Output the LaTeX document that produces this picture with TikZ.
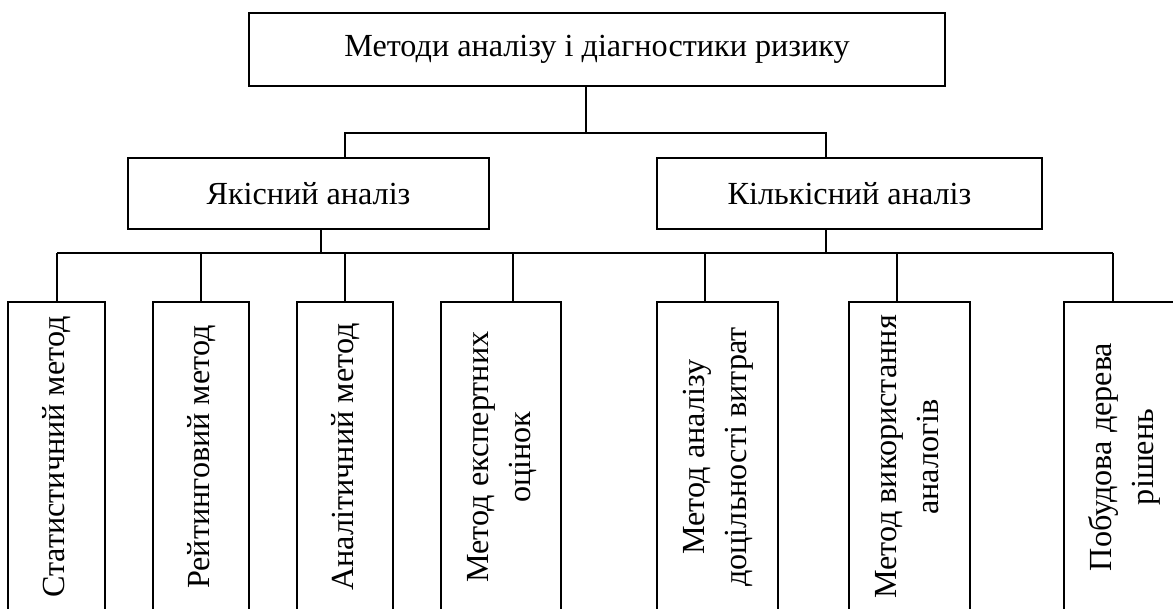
\documentclass[tikz,border=0pt]{standalone}
\usepackage{fontspec}
\setmainfont{Liberation Serif}
\tikzset{
  box/.style={draw=black, line width=1.5pt, fill=white, inner sep=0pt, align=center, font=\fontsize{32.2}{42}\selectfont},
  vbox/.style={box, minimum height=310pt},
  link/.style={draw=black, line width=1.5pt}
}
\newcommand{\vtext}[1]{\rotatebox{90}{\begin{tabular}{@{}c@{}}#1\end{tabular}}}
\begin{document}
\begin{tikzpicture}[x=1pt,y=-1pt]
\useasboundingbox (0,0) rectangle (1173,608);
\clip (0,0) rectangle (1173,608);
% top
\node[box, minimum width=696pt, minimum height=73pt] (top) at (597,49.5) {Методи аналізу і діагностики ризику};
% middle
\node[box, minimum width=361pt, minimum height=71pt] (ql) at (308.5,193.5) {Якісний аналіз};
\node[box, minimum width=385pt, minimum height=71pt] (qn) at (849.5,193.5) {Кількісний аналіз};
% bottom
\node[vbox, minimum width=97pt] (b1) at (56.5,457) {\vtext{Статистичний метод}};
\node[vbox, minimum width=96pt] (b2) at (201,457) {\vtext{Рейтинговий метод}};
\node[vbox, minimum width=96pt] (b3) at (345,457) {\vtext{Аналітичний метод}};
\node[vbox, minimum width=120pt] (b4) at (501,457) {\vtext{Метод експертних\\оцінок}};
\node[vbox, minimum width=121pt] (b5) at (717.5,457) {\vtext{Метод аналізу\\доцільності витрат}};
\node[vbox, minimum width=121pt] (b6) at (909.5,457) {\vtext{Метод використання\\аналогів}};
\node[vbox, minimum width=121pt] (b7) at (1124.5,457) {\vtext{Побудова дерева\\рішень}};
% junctions
\coordinate (j0) at (586,133);
\coordinate (jl) at (345,133);
\coordinate (jr) at (826,133);
\coordinate (kl) at (321,253);
\coordinate (kr) at (826,253);
\coordinate (t1) at (57,253);
\coordinate (t2) at (201,253);
\coordinate (t3) at (345,253);
\coordinate (t4) at (513,253);
\coordinate (t5) at (705,253);
\coordinate (t6) at (897,253);
\coordinate (t7) at (1113,253);
% connectors
\draw[link] (top.south -| j0) -- (j0);
\draw[link] (ql.north -| jl) -- (jl) -- (jr) -- (qn.north -| jr);
\draw[link] (ql.south -| kl) -- (kl);
\draw[link] (qn.south -| kr) -- (kr);
\draw[link] (t1) -- (t7);
\foreach \i in {1,...,7} {
  \draw[link] (t\i) -- (b\i.north -| t\i);
}
\end{tikzpicture}
\end{document}
